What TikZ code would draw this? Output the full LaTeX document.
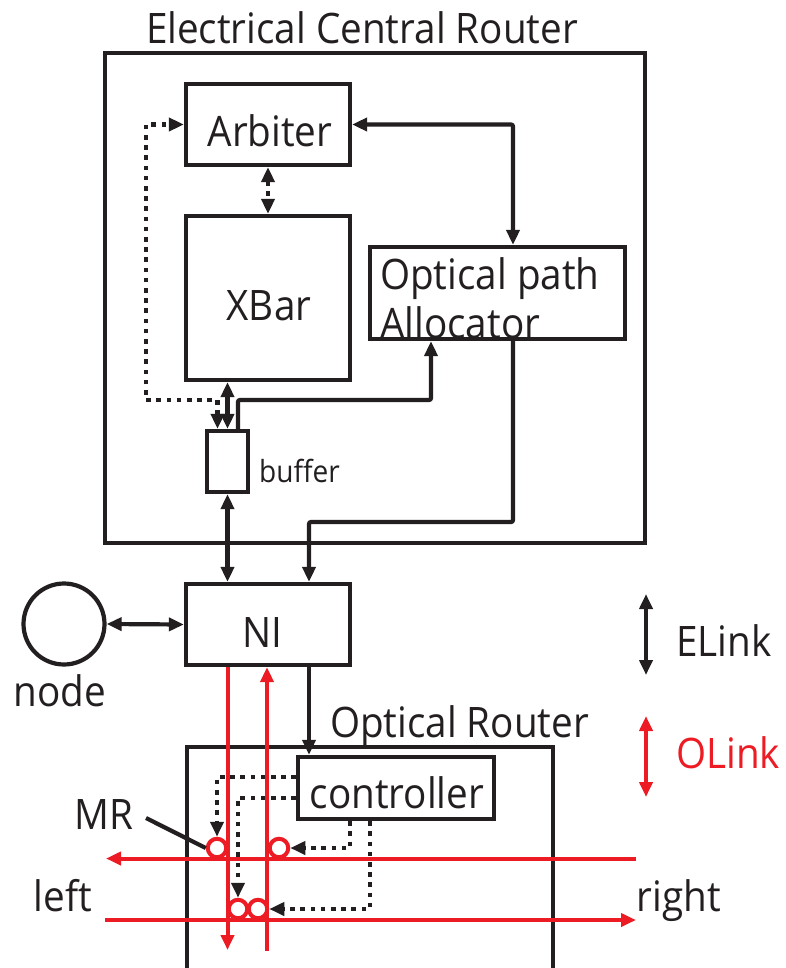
\documentclass[tikz,border=0pt]{standalone}
\usepackage{fontspec}
\setmainfont[FakeStretch=0.92]{Open Sans}
\usetikzlibrary{arrows.meta,calc}
\definecolor{ink}{HTML}{231F20}
\definecolor{redl}{HTML}{ED1C24}
\tikzset{
  x=1pt,y=-1pt,
  boxn/.style={draw=ink,line width=4.2pt,fill=white,inner sep=0pt},
  lab/.style={text=ink,inner sep=0pt,font=\fontsize{42}{49}\selectfont},
  conn/.style={draw=ink,line width=4.2pt,rounded corners=2pt},
  dots/.style={conn,dash pattern=on 4.6pt off 5.6pt,rounded corners=0pt},
  red/.style={draw=redl,line width=4pt},
  ring/.style={circle,draw=redl,line width=4pt,fill=white,inner sep=0pt,minimum size=18.5pt},
  tipb/.style={-{Triangle[length=15pt,width=13pt]}},
  tipr/.style={{Triangle[length=15pt,width=13pt]}-},
  tipbb/.style={{Triangle[length=15pt,width=13pt]}-{Triangle[length=15pt,width=13pt]}},
}
\begin{document}
\begin{tikzpicture}
\useasboundingbox (0,0) rectangle (786,968);
% boxes
\node[boxn,minimum width=540pt,minimum height=490pt] (ecr) at (375,298) {};
\node[boxn,minimum width=164pt,minimum height=81pt] (arb) at (268,124.5) {};
\node[boxn,minimum width=164pt,minimum height=164pt] (xbar) at (268,298) {};
\node[boxn,minimum width=255pt,minimum height=92pt] (opa) at (497.5,293) {};
\node[boxn,minimum width=41pt,minimum height=61pt] (buf) at (227.5,461.5) {};
\node[boxn,minimum width=164pt,minimum height=81pt] (ni) at (268,624.5) {};
\node[circle,draw=ink,line width=4.2pt,fill=white,minimum size=81pt,inner sep=0pt] (cpu) at (64,624) {};
\node[lab,anchor=base] (arblab) at (270,147) {Arbiter};
\node[lab,anchor=base] (xbarlab) at (269,320) {XBar};
\node[lab,anchor=base] (nilab) at (262,647) {NI};
\node[lab,align=left,anchor=west] (opatext) at (380,298.5) {Optical path\\Allocator};
\node[lab,font=\fontsize{30.5}{36}\selectfont,anchor=west] (buflab) at (259,471) {buffer};
\node[lab,anchor=base] (title) at (362,44) {Electrical Central Router};
\node[lab,anchor=base] (nodelab) at (60,706) {node};
\node[lab,anchor=base] (orlab) at (459.5,737) {Optical Router};
\node[lab,anchor=base west] (elab) at (676,656) {ELink};
\node[lab,anchor=base west,text=redl] (olab) at (676,768) {OLink};
\node[lab,anchor=base] (mrlab) at (104,829) {MR};
\node[lab,anchor=base] (leftlab) at (63,911) {left};
\node[lab,anchor=base] (rightlab) at (679,911) {right};
% optical router frame
\coordinate (ortl) at (187,968);
\coordinate (ortr) at (553,968);
\draw[draw=ink,line width=4.2pt] (ortl) -- (187,747) -- (553,747) -- (ortr);
\node[boxn,minimum width=196pt,minimum height=62pt] (ctrl) at (396,788) {};
\node[lab,anchor=base] (ctrllab) at (397,808) {controller};
% electrical connectors
\draw[conn,tipbb] (arb.east) -| ([xshift=15.5pt]opa.north);
\draw[dots,tipbb] (arb.south) -- (arb.south |- xbar.north);
\draw[dots,tipbb] ([xshift=-10pt]buf.north) |- (146,400) -- (146,124.5) -- (arb.west);
\draw[conn,tipbb] (buf.north |- xbar.south) -- (buf.north);
\draw[conn,tipb] ([xshift=10.5pt]buf.north) |- (431,400) -- ([xshift=-66.5pt]opa.south);
\draw[conn,tipbb] (buf.south) -- (buf.south |- ni.north);
\draw[conn,tipb] ([xshift=15.5pt]opa.south) |- (309,522) -- ([xshift=41pt]ni.north);
\draw[conn,tipbb] (cpu.east) -- (ni.west);
\draw[conn,tipb] ([xshift=41pt]ni.south) -- ([xshift=-87pt]ctrl.north);
% legend
\coordinate (ea) at (646,594); \coordinate (eb) at (646,675);
\coordinate (oa) at (646,716); \coordinate (ob) at (646,797);
\draw[conn,tipbb] (ea) -- (eb);
\draw[red,tipbb] (oa) -- (ob);
% red links
\coordinate (rd) at (227.5,950);
\coordinate (ru) at (267,951);
\coordinate (hr) at (636,858.5);
\coordinate (hl) at (106,858.5);
\coordinate (br) at (636,920);
\coordinate (bl) at (105,920);
\draw[red,tipb] ([xshift=-40.5pt]ni.south) -- (rd);
\draw[red,tipr] ([xshift=-1pt]ni.south) -- (ru);
\draw[red,tipb] (hr) -- (hl);
\draw[red,tipb] (bl) -- (br);
\node[ring] (m1) at (217,848) {};
\node[ring] (m2) at (279,848) {};
\node[ring] (m3) at (238,909) {};
\node[ring] (m4) at (258,909) {};
% controller dotted
\draw[dots,tipb] (ctrl.west |- 0,777) -| (m1.north);
\draw[dots,tipb] (ctrl.west |- 0,798) -| (m3.north);
\draw[dots,tipb] ([xshift=-46pt]ctrl.south) |- (m2.east);
\draw[dots,tipb] ([xshift=-26pt]ctrl.south) |- (m4.east);
% MR leader
\coordinate (mrs) at (146,818);
\draw[conn] (mrs) -- (m1.west);
\end{tikzpicture}
\end{document}
